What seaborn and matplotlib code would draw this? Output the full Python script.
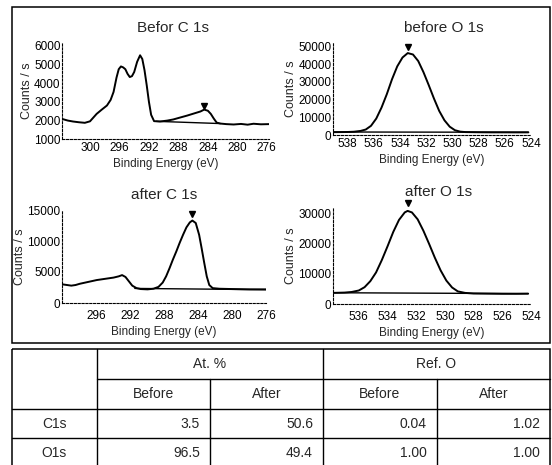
import matplotlib
matplotlib.use("Agg")
import matplotlib.pyplot as plt
from matplotlib.patches import Rectangle
import seaborn as sns
import pandas as pd

# ---- spectra (binding energy in eV, counts / s) ----
bc_ev = [303.8, 303.0, 302.3, 301.5, 300.7, 300.0, 299.1, 298.4, 297.7, 297.2, 296.8, 296.4,
         296.1, 295.8, 295.5, 295.2, 294.9, 294.6, 294.3, 294.0, 293.6, 293.2, 292.9, 292.6,
         292.3, 292.0, 291.7, 291.3, 290.5, 289.5, 288.7, 287.8, 286.8, 285.9, 285.0, 284.5,
         284.0, 283.6, 283.2, 282.8, 282.3, 281.5, 280.5, 279.5, 278.6, 277.8, 276.8, 275.7]
bc_cps = [2080, 1990, 1940, 1900, 1870, 1950, 2350, 2580, 2800, 3100, 3530, 4300,
          4750, 4900, 4850, 4750, 4500, 4330, 4380, 4600, 5150, 5500, 5300, 4700,
          3890, 3000, 2300, 1960, 1940, 1990, 2050, 2150, 2260, 2370, 2480, 2580,
          2520, 2350, 2100, 1880, 1830, 1800, 1780, 1810, 1770, 1820, 1790, 1800]
bc_bg_ev = [291.0, 282.3]
bc_bg_cps = [1950, 1830]

bo_ev = [539.1, 538.5, 538.0, 537.5, 537.0, 536.6, 536.2, 535.8, 535.4, 535.0, 534.6, 534.2,
         533.8, 533.4, 533.0, 532.6, 532.2, 531.8, 531.4, 531.0, 530.6, 530.2, 529.8, 529.4,
         529.0, 528.0, 527.0, 526.0, 525.0, 524.2]
bo_cps = [1600, 1650, 1700, 1850, 2300, 3100, 5200, 9300, 15500, 23000, 31500, 38800,
          43800, 46300, 45500, 41800, 35500, 28200, 20600, 13600, 8300, 4700, 2700, 1900,
          1650, 1550, 1500, 1500, 1480, 1500]
bo_bg_ev = [539.1, 524.2]
bo_bg_cps = [1700, 1550]

ac_ev = [300.0, 299.5, 299.0, 298.5, 298.0, 297.0, 296.0, 295.0, 294.0, 293.4, 293.0, 292.6,
         292.2, 291.8, 291.3, 290.8, 290.0, 289.3, 288.7, 288.2, 287.8, 287.4, 287.0, 286.6,
         286.2, 285.8, 285.4, 285.0, 284.7, 284.3, 283.9, 283.6, 283.3, 283.0, 282.7, 282.3,
         281.5, 280.0, 278.0, 276.0]
ac_cps = [3000, 2900, 2800, 2900, 3100, 3400, 3700, 3900, 4100, 4300, 4500, 4200,
          3500, 2800, 2400, 2250, 2200, 2300, 2600, 3300, 4300, 5600, 7000, 8300,
          9700, 11000, 12200, 13000, 13300, 12900, 11000, 8800, 6500, 4300, 2900, 2400,
          2300, 2250, 2200, 2200]
ac_bg_ev = [291.5, 276.0]
ac_bg_cps = [2350, 2150]

ao_ev = [537.8, 537.0, 536.5, 536.0, 535.6, 535.2, 534.8, 534.4, 534.0, 533.6, 533.2, 532.8,
         532.6, 532.3, 531.9, 531.5, 531.1, 530.7, 530.3, 529.9, 529.5, 529.1, 528.6, 528.0,
         527.0, 526.0, 525.0, 524.2]
ao_cps = [3700, 3800, 4000, 4500, 5600, 7600, 10500, 14600, 19200, 24000, 28000, 30500,
          31000, 30500, 28200, 24400, 20000, 15400, 11200, 7800, 5500, 4200, 3700, 3500,
          3450, 3400, 3400, 3450]
ao_bg_ev = [537.8, 524.2]
ao_bg_cps = [3750, 3450]

# peak markers (triangles)
peak_ev = [284.5, 533.4, 284.7, 532.6]
peak_mark = [2800, 49500, 14300, 33600]

titles = ["Befor C 1s", "before O 1s", "after C 1s", "after O 1s"]
xticks = [[300, 296, 292, 288, 284, 280, 276],
          [538, 536, 534, 532, 530, 528, 526, 524],
          [296, 292, 288, 284, 280, 276],
          [536, 534, 532, 530, 528, 526, 524]]
yticks = [[1000, 2000, 3000, 4000, 5000, 6000],
          [0, 10000, 20000, 30000, 40000, 50000],
          [0, 5000, 10000, 15000],
          [0, 10000, 20000, 30000]]
xlims = [(303.8, 275.7), (539.1, 524.2), (300.1, 276.0), (537.8, 524.2)]
ylims = [(1000, 6160), (0, 52000), (0, 15000), (0, 32300)]

# ---- table ----
col_groups = ["At. %", "Ref. O"]
sub_cols = ["Before", "After", "Before", "After"]
row_labels = ["C1s", "O1s"]
at_pct = [[3.5, 50.6], [96.5, 49.4]]
ref_o = [[0.04, 1.02], [1.00, 1.00]]

sns.set_style("white")
plt.rcParams["font.family"] = ["Liberation Sans", "DejaVu Sans"]

W, H = 552, 465
fig = plt.figure(figsize=(W / 100, H / 100), dpi=100)

# background axes in pixel units for the frame and the table
bg = fig.add_axes([0, 0, 1, 1])
bg.set_xlim(0, W)
bg.set_ylim(H, 0)
bg.axis("off")
bg.add_patch(Rectangle((12, 7), 538, 336, fill=False, lw=1.1, ec="black"))

# table grid
tx = [12, 97, 210, 323, 437, 550]
ty = [349, 379, 409, 438, 468]
bg.add_patch(Rectangle((tx[0], ty[0]), tx[-1] - tx[0], ty[-1] - ty[0], fill=False, lw=1.1, ec="black"))
for x in [tx[1], tx[3]]:
    bg.plot([x, x], [ty[0], ty[-1]], color="black", lw=1.0)
for x in [tx[2], tx[4]]:
    bg.plot([x, x], [ty[1], ty[-1]], color="black", lw=1.0)
bg.plot([tx[1], tx[-1]], [ty[1], ty[1]], color="black", lw=1.0)
for y in ty[2:4]:
    bg.plot([tx[0], tx[-1]], [y, y], color="black", lw=1.0)

fs_tab = 10
for i, g in enumerate(col_groups):
    bg.text((tx[1 + 2 * i] + tx[3 + 2 * i]) / 2, (ty[0] + ty[1]) / 2, g,
            ha="center", va="center", fontsize=fs_tab)
for j, s in enumerate(sub_cols):
    bg.text((tx[1 + j] + tx[2 + j]) / 2, (ty[1] + ty[2]) / 2, s,
            ha="center", va="center", fontsize=fs_tab)
for r, lab in enumerate(row_labels):
    yc = (ty[2 + r] + ty[3 + r]) / 2
    bg.text((tx[0] + tx[1]) / 2, yc, lab, ha="center", va="center", fontsize=fs_tab)
    vals = ["%.1f" % v for v in at_pct[r]] + ["%.2f" % v for v in ref_o[r]]
    for j, v in enumerate(vals):
        bg.text(tx[2 + j] - 10, yc, v, ha="right", va="center", fontsize=fs_tab)

# plot axes: positions in pixels (left, top, right, bottom)
boxes = [(62, 43, 269, 139), (333, 43, 531, 135), (62, 210, 266, 303), (333, 207, 531, 304)]
title_x = [0.536, 0.56, 0.5, 0.535]
spectra = [(bc_ev, bc_cps, bc_bg_ev, bc_bg_cps),
           (bo_ev, bo_cps, bo_bg_ev, bo_bg_cps),
           (ac_ev, ac_cps, ac_bg_ev, ac_bg_cps),
           (ao_ev, ao_cps, ao_bg_ev, ao_bg_cps)]

for k in range(4):
    l, t, r, b = boxes[k]
    ax = fig.add_axes([l / W, 1 - b / H, (r - l) / W, (b - t) / H])
    ax.patch.set_alpha(0)
    ev, cps, bev, bcps = spectra[k]
    df = pd.DataFrame({"ev": ev, "cps": cps})
    sns.lineplot(data=df, x="ev", y="cps", ax=ax, color="black", lw=1.4, sort=False)
    sns.lineplot(x=bev, y=bcps, ax=ax, color="black", lw=1.0, sort=False)
    ax.plot([peak_ev[k]], [peak_mark[k]], marker="v", color="black", ms=5, clip_on=False)

    ax.set_xlim(*xlims[k])
    ax.set_ylim(*ylims[k])
    ax.set_xticks(xticks[k])
    ax.set_yticks(yticks[k])
    ax.tick_params(axis="both", labelsize=8.5, length=2, width=0.6, direction="in", colors="black")
    ax.tick_params(axis="x", pad=2 if k < 2 else 5)
    ax.tick_params(axis="y", pad=1)
    ax.xaxis.set_minor_locator(matplotlib.ticker.MultipleLocator(0.5 if k % 2 else 1))
    ax.tick_params(axis="x", which="minor", length=1.5, width=0.5, direction="in")
    for side in ["top", "right"]:
        ax.spines[side].set_visible(False)
    for side in ["left", "bottom"]:
        ax.spines[side].set_linestyle((0, (2, 1.5)))
        ax.spines[side].set_linewidth(0.8)
        ax.spines[side].set_color("black")
    ax.set_xlabel("Binding Energy (eV)", fontsize=8.5, labelpad=3)
    ax.set_ylabel("Counts / s", fontsize=9, labelpad=1)
    ax.set_title(titles[k], fontsize=11, x=title_x[k], pad=8)

fig.savefig("out.png", dpi=100)
